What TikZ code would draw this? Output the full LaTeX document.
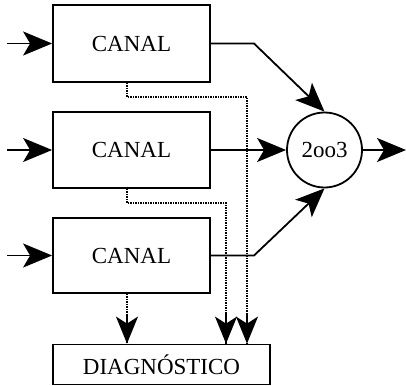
\documentclass[tikz,border=0pt]{standalone}
\usepackage{fontspec}
\setmainfont{Liberation Serif}
\usetikzlibrary{arrows.meta}
\begin{document}
\begin{tikzpicture}[x=1pt,y=-1pt,
  box/.style={draw,line width=1.8pt,inner sep=0pt,font=\fontsize{23}{27}\selectfont},
  sig/.style={line width=1.8pt},
  tip/.style={-{Stealth[length=29pt,width=24pt,inset=7pt]}},
  diag/.style={line width=2.2pt,dash pattern=on 1.4pt off 1.1pt},
  dtip/.style={-{Stealth[length=27pt,width=22pt,inset=7pt]}}]
\useasboundingbox (0,0) rectangle (406,385);
\node[box,minimum width=157pt,minimum height=77pt] (c1) at (131.5,43.5) {CANAL};
\node[box,minimum width=157pt,minimum height=76pt] (c2) at (131.5,150) {CANAL};
\node[box,minimum width=157pt,minimum height=75pt] (c3) at (131.5,255.5) {CANAL};
\node[box,minimum width=217pt,minimum height=40pt] (dg) at (161.5,364.5) {DIAGNÓSTICO};
\node[box,circle,minimum size=75pt] (v) at (324.5,150) {2oo3};
\coordinate (i1) at (7,43.5);
\coordinate (i2) at (7,150);
\coordinate (i3) at (7,255.5);
\coordinate (o) at (406,150);
\coordinate (k1) at (254,43.5);
\coordinate (k3) at (254,255.5);
\coordinate (d1) at (127,97);
\coordinate (e1) at (247,97);
\coordinate (d2) at (127,203);
\coordinate (e2) at (226,203);
\draw[sig,tip] (i1) -- (c1.west);
\draw[sig,tip] (i2) -- (c2.west);
\draw[sig,tip] (i3) -- (c3.west);
\draw[sig,tip] (c1.east) -- (k1) -- (v.north);
\draw[sig,tip] (c2.east) -- (v.west);
\draw[sig,tip] (c3.east) -- (k3) -- (v.south);
\draw[sig,tip] (v.east) -- (o);
\draw[diag] (c1.south -| d1) -- (d1) -- (e1) -- (e1 |- dg.north);
\draw[diag] (c2.south -| d2) -- (d2) -- (e2) -- (e2 |- dg.north);
\draw[diag] (c3.south -| d1) -- (d1 |- dg.north);
\draw[sig,dtip] ([yshift=30pt]e1 |- dg.north) -- (e1 |- dg.north);
\draw[sig,dtip] ([yshift=30pt]e2 |- dg.north) -- (e2 |- dg.north);
\draw[sig,dtip] ([yshift=30pt]d1 |- dg.north) -- (d1 |- dg.north);
\end{tikzpicture}
\end{document}
